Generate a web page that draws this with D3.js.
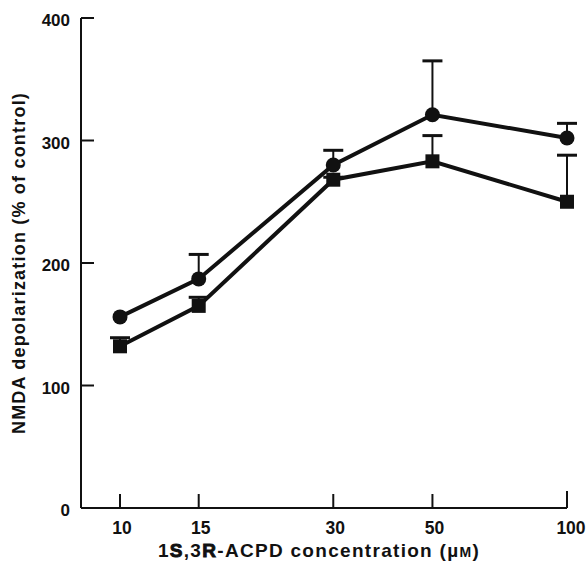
<!DOCTYPE html>
<html>
<head>
<meta charset="utf-8">
<script src="https://cdn.jsdelivr.net/npm/d3@7"></script>
<style>
  body { margin: 0; background: #fff; }
  text { font-family: "Liberation Sans", Arial, sans-serif; fill: #111; }
</style>
</head>
<body>
<svg width="588" height="565"></svg>
<script>
// concentrations (uM)
var conc = [10, 15, 30, 50, 100];
// circles series: mean and upper error
var circleMean = [156, 187, 280, 321, 302];
var circleErr  = [0, 20, 12, 44, 12];
// squares series
var squareMean = [132, 165, 268, 283, 250];
var squareErr  = [7, 7, 2, 21, 38];
var yTicks = [0, 100, 200, 300, 400];

var svg = d3.select("svg");

var x = d3.scaleLog().domain([10, 100]).range([120, 567]);
var y = d3.scaleLinear().domain([0, 400]).range([508, 18]);
var x0 = 81;

var g = svg.append("g");

// axes lines
g.append("line")
    .attr("x1", x0).attr("x2", x(100))
    .attr("y1", y(0)).attr("y2", y(0))
    .attr("stroke", "#111").attr("stroke-width", 2);
g.append("line")
    .attr("x1", x0).attr("x2", x0)
    .attr("y1", y(0)).attr("y2", y(400))
    .attr("stroke", "#111").attr("stroke-width", 2);

// y ticks (inward)
g.selectAll(".yt")
    .data(yTicks.filter(function(d) { return d > 0; }))
    .enter().append("line")
    .attr("x1", x0).attr("x2", x0 + 13)
    .attr("y1", function(d) { return y(d); })
    .attr("y2", function(d) { return y(d); })
    .attr("stroke", "#111").attr("stroke-width", 2);

g.selectAll(".yl")
    .data(yTicks)
    .enter().append("text")
    .attr("x", 70)
    .attr("y", function(d) { return y(d) + 2; })
    .attr("dy", "0.36em")
    .attr("text-anchor", "end")
    .style("font-size", "17px")
    .style("font-weight", "bold")
    .text(function(d) { return d; });

// x ticks (inward)
g.selectAll(".xt")
    .data(conc)
    .enter().append("line")
    .attr("x1", function(d) { return x(d); })
    .attr("x2", function(d) { return x(d); })
    .attr("y1", y(0))
    .attr("y2", function(d) { return y(0) - (d === 100 ? 17 : 14); })
    .attr("stroke", "#111").attr("stroke-width", 2);

g.selectAll(".xl")
    .data(conc)
    .enter().append("text")
    .attr("x", function(d) { return x(d) + (d === 100 ? 4 : 2); })
    .attr("y", 534)
    .attr("text-anchor", "middle")
    .style("font-size", "17.5px")
    .style("font-weight", "bold")
    .text(function(d) { return d; });

// axis titles
var xt = g.append("text")
    .attr("x", 319)
    .attr("y", 557)
    .attr("text-anchor", "middle")
    .style("font-size", "19px")
    .style("font-weight", "bold")
    .style("letter-spacing", "1.3px");
xt.append("tspan").text("1");
xt.append("tspan").style("stroke", "#111").style("stroke-width", "0.9px").text("S");
xt.append("tspan").text(",3");
xt.append("tspan").style("stroke", "#111").style("stroke-width", "0.9px").text("R");
xt.append("tspan").text("-ACPD concentration (\u00b5");
xt.append("tspan").style("font-size", "14px").text("M");
xt.append("tspan").text(")");

g.append("text")
    .attr("transform", "translate(25," + 263 + ") rotate(-90)")
    .attr("text-anchor", "middle")
    .style("font-size", "18px")
    .style("font-weight", "bold")
    .style("letter-spacing", "1.2px")
    .text("NMDA depolarization (% of control)");

function series(mean, err) {
    return conc.map(function(c, i) { return {c: c, m: mean[i], e: err[i]}; });
}
var circ = series(circleMean, circleErr);
var sq = series(squareMean, squareErr);

var line = d3.line()
    .x(function(d) { return x(d.c); })
    .y(function(d) { return y(d.m); });

function errBars(data) {
    var eb = g.append("g");
    var withErr = data.filter(function(d) { return d.e > 0; });
    eb.selectAll("line.stem")
        .data(withErr)
        .enter().append("line")
        .attr("x1", function(d) { return x(d.c); })
        .attr("x2", function(d) { return x(d.c); })
        .attr("y1", function(d) { return y(d.m); })
        .attr("y2", function(d) { return y(d.m + d.e); })
        .attr("stroke", "#111").attr("stroke-width", 2);
    eb.selectAll("line.cap")
        .data(withErr)
        .enter().append("line")
        .attr("x1", function(d) { return x(d.c) - 10; })
        .attr("x2", function(d) { return x(d.c) + 10; })
        .attr("y1", function(d) { return y(d.m + d.e); })
        .attr("y2", function(d) { return y(d.m + d.e); })
        .attr("stroke", "#111").attr("stroke-width", 3);
}
errBars(circ);
errBars(sq);

g.append("path").datum(circ)
    .attr("d", line)
    .attr("fill", "none").attr("stroke", "#111").attr("stroke-width", 4);
g.append("path").datum(sq)
    .attr("d", line)
    .attr("fill", "none").attr("stroke", "#111").attr("stroke-width", 4);

g.selectAll(".dot")
    .data(circ)
    .enter().append("circle")
    .attr("cx", function(d) { return x(d.c); })
    .attr("cy", function(d) { return y(d.m); })
    .attr("r", 7.5)
    .attr("fill", "#111");

g.selectAll(".sq")
    .data(sq)
    .enter().append("rect")
    .attr("x", function(d) { return x(d.c) - 7; })
    .attr("y", function(d) { return y(d.m) - 7; })
    .attr("width", 14).attr("height", 14)
    .attr("fill", "#111");
</script>
</body>
</html>
